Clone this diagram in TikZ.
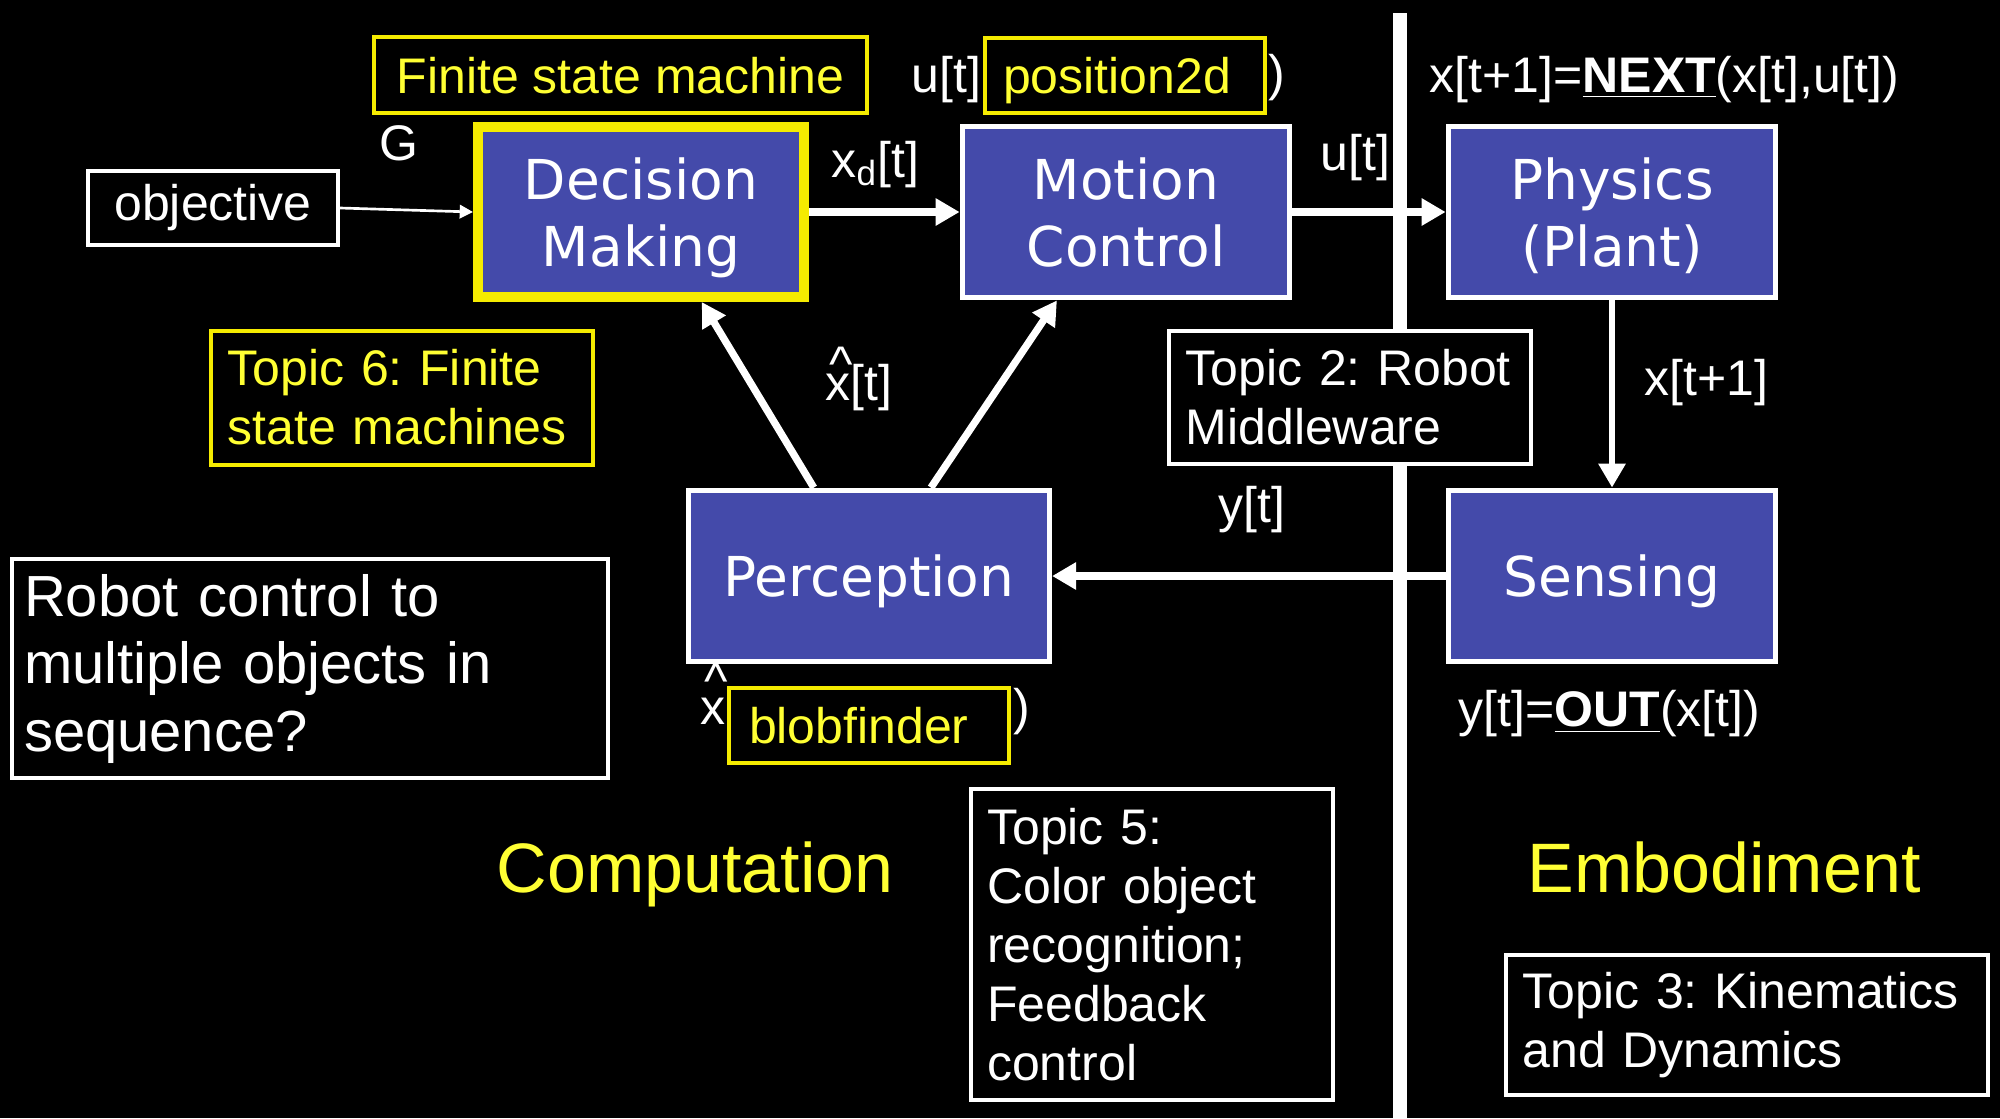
\documentclass[tikz,border=0pt]{standalone}
\usepackage{fontspec}
\setmainfont{Liberation Sans}
\newfontfamily\boxfont{DejaVu Sans}
\usetikzlibrary{arrows.meta}
\definecolor{boxblue}{RGB}{68,74,170}
\definecolor{slideyellow}{RGB}{255,255,51}
\definecolor{frameyellow}{RGB}{245,235,0}
\frenchspacing

\begin{document}
\begin{tikzpicture}[x=0.3pt, y=-0.3pt,
  every node/.style={font=\fontsize{15}{17.7}\selectfont, text=white, inner sep=0pt},
  block/.style={draw=white, line width=1.65pt, fill=boxblue, align=center, text depth=0pt,
    font=\boxfont\fontsize{16.5}{20}\selectfont, minimum width=98.2pt, minimum height=51.4pt},
  topic/.style={draw=white, line width=1.2pt, fill=black, align=left, inner xsep=5pt},
  tag/.style={draw=frameyellow, line width=1.2pt, fill=black, text=slideyellow,
    minimum height=22.6pt, text depth=0pt},
  sig/.style={anchor=base west},
  flow/.style={white, line width=2.2pt, -{Triangle[length=7.2pt,width=7.8pt]}},
  thinflow/.style={white, line width=0.8pt, -{Triangle[length=4pt,width=4pt]}}]

\path[use as bounding box, fill=black] (0,0) rectangle (2000,1118);

%Divider
\coordinate (divtop) at (1400,13);
\coordinate (divbot) at (1400,1118);
\draw[white, line width=4pt] (divtop) -- (divbot);

%Loop
\node[block, draw=frameyellow, line width=3pt, minimum width=97.8pt, minimum height=51pt]
  (decision) at (641,212) {Decision\\Making};
\node[block] (motion) at (1126,212) {Motion\\Control};
\node[block] (physics) at (1612,212) {Physics\\(Plant)};
\node[block] (sensing) at (1612,576) {Sensing};
\node[block, minimum width=108.2pt] (perception) at (869,576) {Perception};

\node[topic, inner xsep=0pt, minimum width=75pt, minimum height=22.2pt]
  (objective) at (213,208) {objective};

\draw[thinflow] (objective.east) -- (decision.west);
\draw[flow] (decision.east) -- (motion.west);
\draw[flow] (motion.east) -- (physics.west);
\draw[flow, line width=1.8pt] (physics.south) -- (sensing.north);
\draw[flow] (sensing.west) -- (perception.east);
\draw[flow] (perception.122) -- (decision.304);
\draw[flow] (perception.55) -- (motion.232);

%Signals
\node[sig] (gname) at (379,160) {G};
\node[sig] (xd) at (831,177) {x\textsubscript{d}[t]};
\node[sig] (uphys) at (1320,170) {u[t]};
\node[sig] (xnext) at (1644,395) {x[t+1]};
\node[sig] (yout) at (1218,522) {y[t]};
\node[sig] (xhatcar) at (829,381) {\textasciicircum};
\node[sig] (xhat) at (825,400) {x[t]};
\node[sig] (nextfn) at (1429,92) {x[t+1]=\underline{\textbf{NEXT}}(x[t],u[t])};
\node[sig] (outfn) at (1458,726) {y[t]=\underline{\textbf{OUT}}(x[t])};

%Implementations
\node[tag, minimum width=147.9pt] (fsm) at (620.5,75) {Finite state machine};
\node[sig] (umotion) at (911,92) {u[t]};
\node[tag, inner xsep=5.4pt, text width=73.2pt, align=left] (pos2d) at (1125,75.5) {position2d};
\node[sig] (pclose) at (1268,90) {)};
\node[sig] (blobcar) at (704,698) {\textasciicircum};
\node[sig] (blobx) at (700,724) {x};
\node[tag, inner xsep=6pt, text width=72pt, align=left] (blob) at (869,725.5) {blobfinder};
\node[sig] (bclose) at (1013,724) {)};

%Topics
\node[topic, text width=98.6pt, minimum height=39.9pt] (topic2) at (1350,397.5)
  {Topic 2: Robot\\Middleware};
\node[topic, draw=frameyellow, text=slideyellow, text width=104.6pt, minimum height=40.2pt]
  (topic6) at (402,397.5) {Topic 6: Finite\\state machines};
\node[topic, text width=98.6pt, minimum height=93.3pt] (topic5) at (1151.5,944.5)
  {Topic 5:\\Color object\\recognition;\\Feedback\\control};
\node[topic, text width=134.6pt, minimum height=42pt] (topic3) at (1747,1025)
  {Topic 3: Kinematics\\and Dynamics};
\node[topic, inner xsep=3.6pt, text width=171.6pt, minimum height=65.7pt,
  font=\fontsize{17.4}{20.25}\selectfont] (question) at (310,668.5)
  {Robot control to\\multiple objects in\\sequence?};

%Sides
\node[anchor=base, text=slideyellow, font=\fontsize{21}{25}\selectfont] (comp) at (695,892) {Computation};
\node[anchor=base, text=slideyellow, font=\fontsize{21}{25}\selectfont] (embod) at (1724,892) {Embodiment};
\end{tikzpicture}
\end{document}
